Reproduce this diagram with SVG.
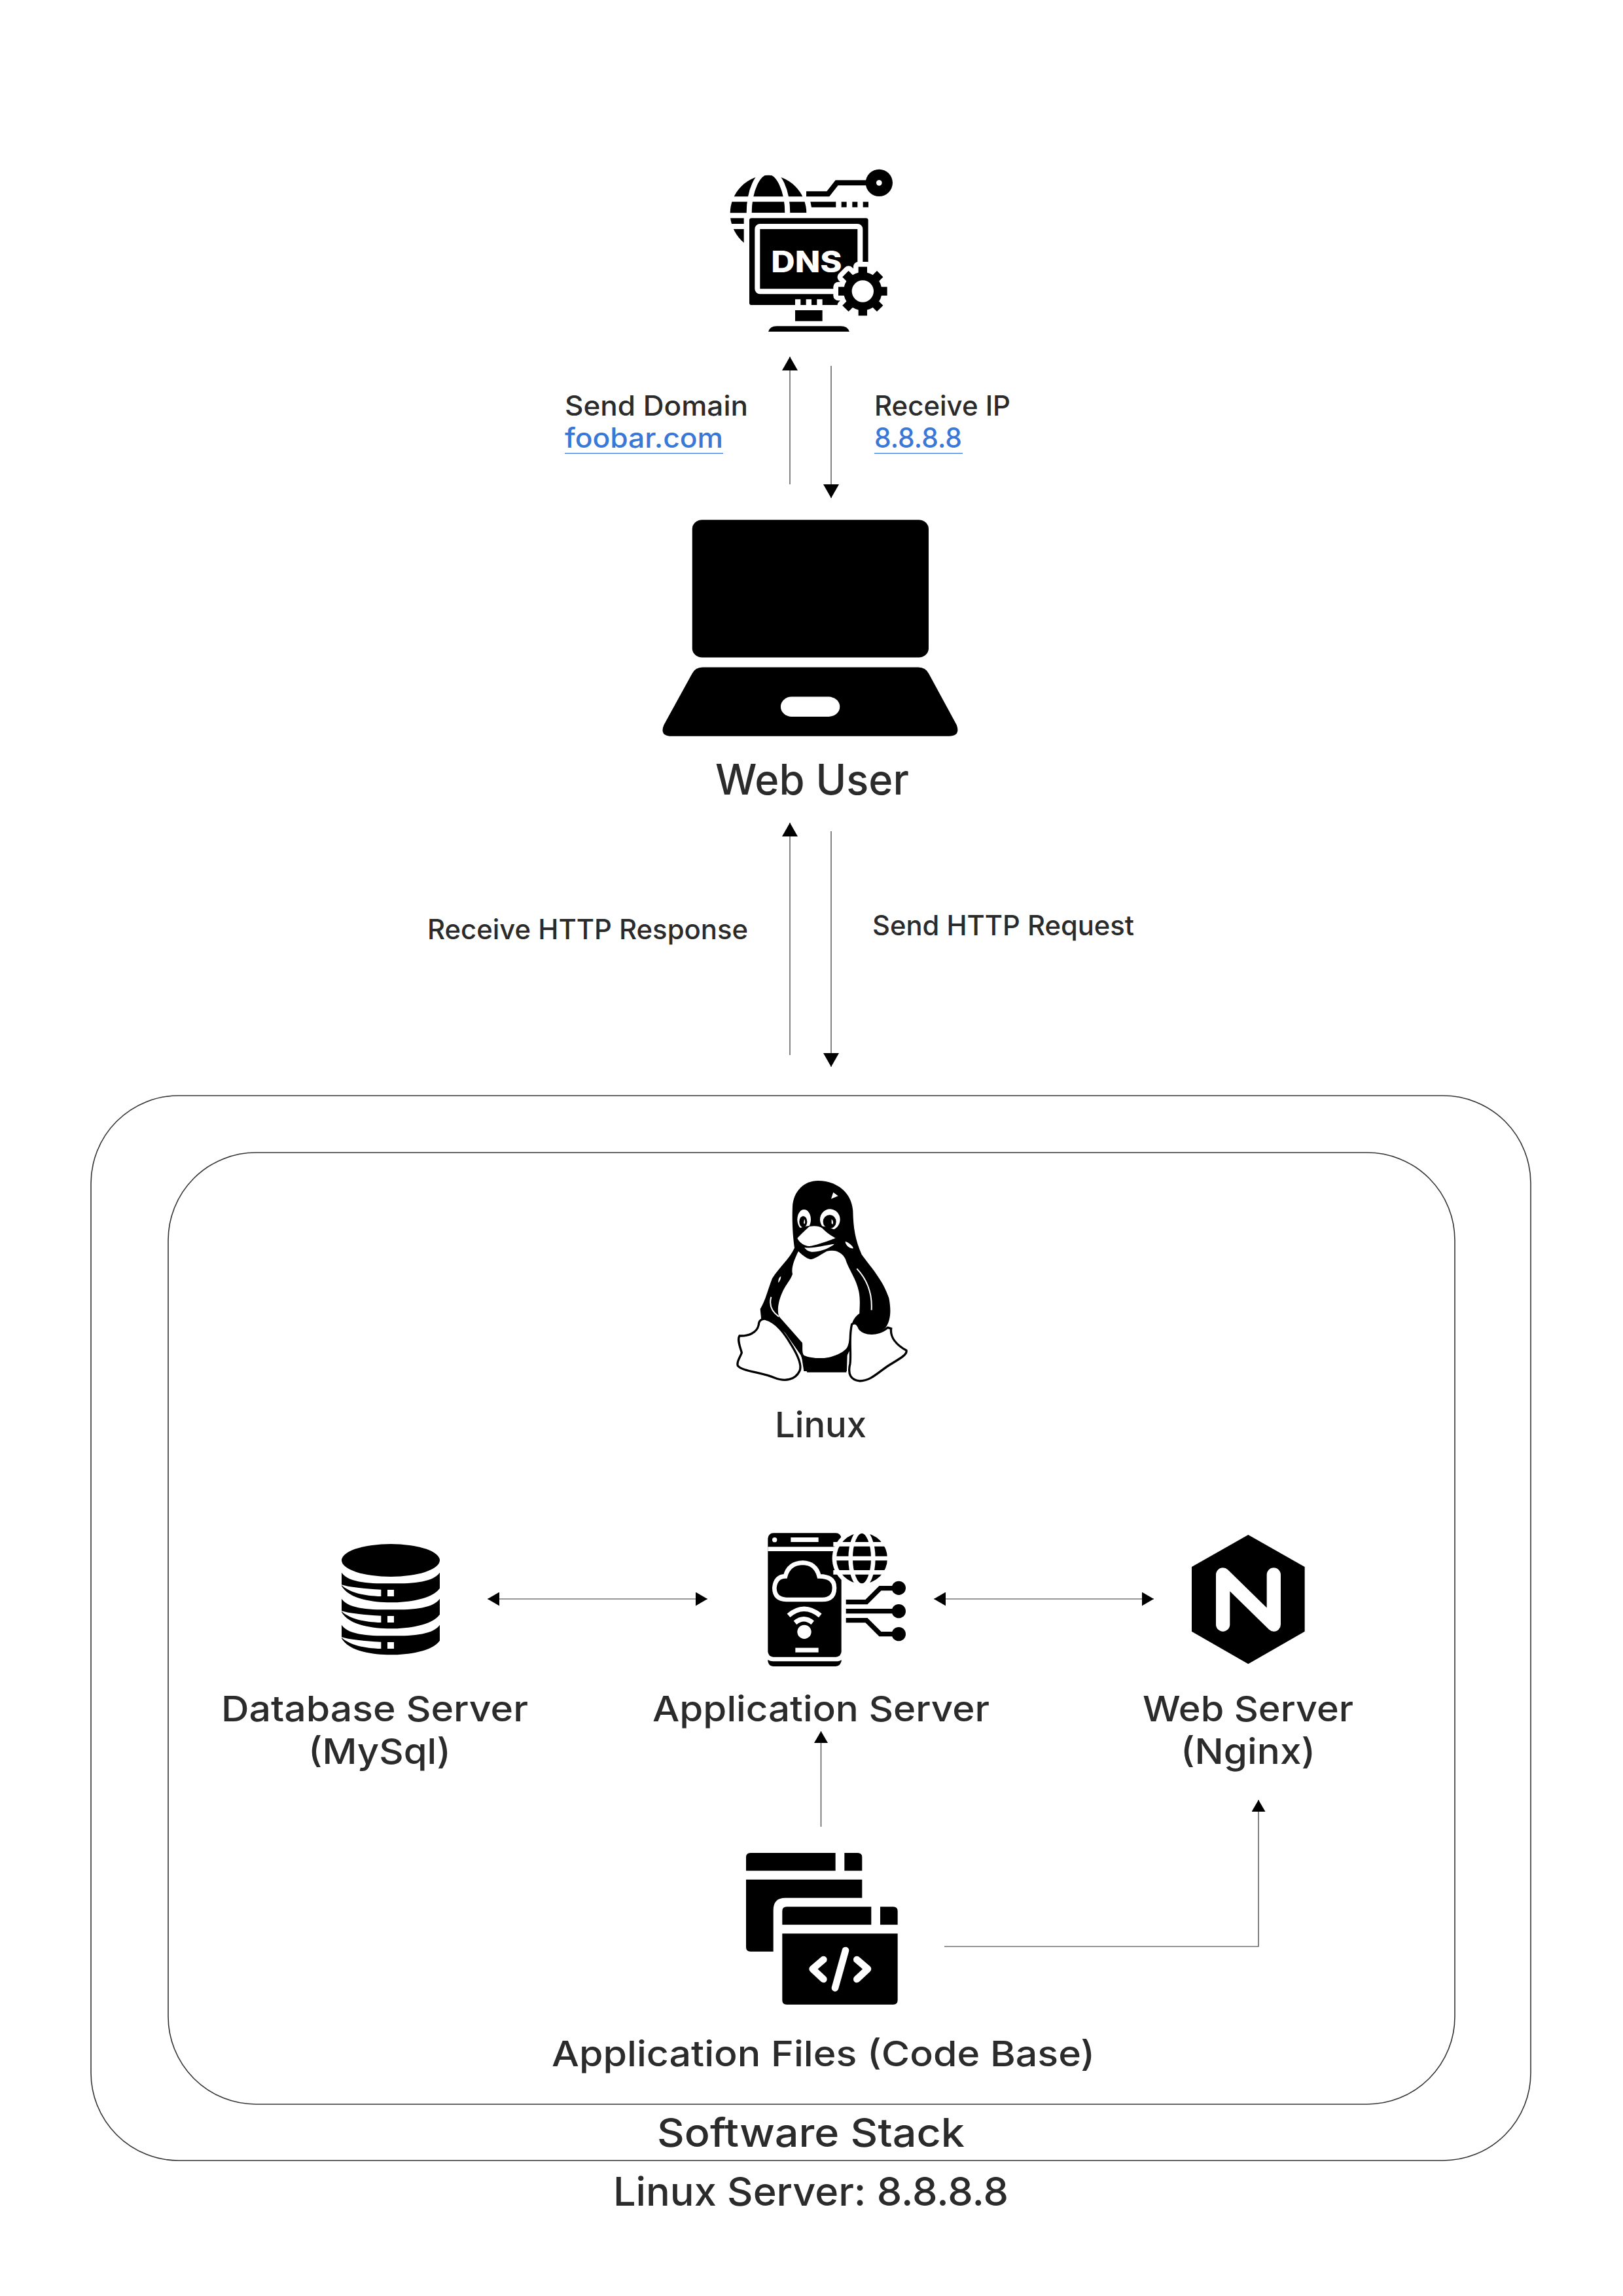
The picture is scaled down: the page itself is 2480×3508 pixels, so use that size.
<svg xmlns="http://www.w3.org/2000/svg" width="2480" height="3508" viewBox="0 0 2480 3508">
<style>
text{font-family:Inter,"Noto Sans","Liberation Sans",sans-serif;fill:#2b2b2b;font-weight:500}
.s{font-size:42px}.m{font-size:54px}.l{font-size:60px}.xl{font-size:64px}
.link{fill:#3a78d8}
.frame{fill:none;stroke:#333;stroke-width:1.6}
.c{fill:none;stroke:#333;stroke-width:1.2}
.k{fill:#000}.w{fill:#fff}
.ws{fill:none;stroke:#fff}
.ks{fill:none;stroke:#000}
</style>
<defs>
<marker id="a" markerUnits="userSpaceOnUse" markerWidth="22" markerHeight="24" refX="21" refY="12" orient="auto-start-reverse"><path d="M0 0L21 12L0 24Z" fill="#000"/></marker>
<marker id="b" markerUnits="userSpaceOnUse" markerWidth="19" markerHeight="21" refX="18" refY="10.5" orient="auto-start-reverse"><path d="M0 0L18 10.5L0 21Z" fill="#000"/></marker>
<g id="db-layer"><path class="k" d="M96 218C130 268 240 268 321 268C400 268 510 268 546 218V290C510 340 400 355 321 355C240 355 130 340 96 280Z"/><path class="w" d="M92 272C130 310 200 325 277 327V296C200 292 130 285 92 272Z"/><rect class="w" x="306" y="297" width="30" height="30"/></g>
</defs>
<rect width="2480" height="3508" fill="#fff"/>

<g id="server-frame"><rect class="frame" x="139" y="1674" width="2200" height="1627" rx="134"/></g>
<g id="stack-frame"><rect class="frame" x="257" y="1761" width="1966" height="1454" rx="134"/></g>

<g id="connectors">
<path class="c" d="M1207 740V545" marker-end="url(#a)"/>
<path class="c" d="M1270 559V761" marker-end="url(#a)"/>
<path class="c" d="M1207 1612V1257" marker-end="url(#a)"/>
<path class="c" d="M1270 1270V1630" marker-end="url(#a)"/>
<path class="c" d="M745 2443H1081" marker-start="url(#b)" marker-end="url(#b)"/>
<path class="c" d="M1427 2443H1763" marker-start="url(#b)" marker-end="url(#b)"/>
<path class="c" d="M1254.5 2791V2645" marker-end="url(#b)"/>
<path class="c" d="M1443 2974H1923V2750" marker-end="url(#b)"/>
</g>

<g id="dns">
<g transform="translate(1080 240) scale(.3333)">
<circle class="k" cx="282" cy="258" r="175"/>
<path class="ws" stroke-width="24" d="M90 193H480M90 268H480M90 318H180"/>
<ellipse class="ws" stroke-width="24" cx="282" cy="258" rx="88" ry="190"/>
<rect class="w" x="170" y="256" width="600" height="450" rx="20"/>
<rect class="w" x="456" y="130" width="20" height="60"/>
<path class="ks" stroke-width="24" d="M456 169H556L596 118H760"/>
<path class="k" d="M475 205H592V230H480Z"/>
<rect class="k" x="617" y="205" width="24" height="25"/><rect class="k" x="667" y="205" width="24" height="25"/><rect class="k" x="716" y="205" width="25" height="25"/>
<circle class="k" cx="790" cy="118" r="62"/><circle class="w" cx="790" cy="118" r="13"/>
<rect class="k" x="195" y="280" width="545" height="398" rx="10"/>
<rect class="k" x="232" y="318" width="471" height="298" rx="12" stroke="#fff" stroke-width="24"/>
<path class="w" d="M405 652h25v26h-25zM455 652h25v26h-25zM505 652h25v26h-25z"/>
<text x="295" y="528" font-size="134" style="fill:#fff;font-weight:800" textLength="325" lengthAdjust="spacingAndGlyphs">DNS</text>
<rect class="k" x="405" y="702" width="125" height="50"/>
<path class="k" d="M282 800Q290 775 320 775H615Q645 775 654 800Z"/>
<g fill="#fff" stroke="#fff" stroke-width="46" stroke-linejoin="round">
<circle cx="715" cy="615" r="88"/>
<rect x="695" y="503" width="40" height="40"/><rect x="695" y="503" width="40" height="40" transform="rotate(45 715 615)"/><rect x="695" y="503" width="40" height="40" transform="rotate(90 715 615)"/><rect x="695" y="503" width="40" height="40" transform="rotate(135 715 615)"/><rect x="695" y="503" width="40" height="40" transform="rotate(180 715 615)"/><rect x="695" y="503" width="40" height="40" transform="rotate(225 715 615)"/><rect x="695" y="503" width="40" height="40" transform="rotate(270 715 615)"/><rect x="695" y="503" width="40" height="40" transform="rotate(315 715 615)"/>
</g>
<g class="k">
<circle cx="715" cy="615" r="88"/>
<rect x="695" y="503" width="40" height="40"/><rect x="695" y="503" width="40" height="40" transform="rotate(45 715 615)"/><rect x="695" y="503" width="40" height="40" transform="rotate(90 715 615)"/><rect x="695" y="503" width="40" height="40" transform="rotate(135 715 615)"/><rect x="695" y="503" width="40" height="40" transform="rotate(180 715 615)"/><rect x="695" y="503" width="40" height="40" transform="rotate(225 715 615)"/><rect x="695" y="503" width="40" height="40" transform="rotate(270 715 615)"/><rect x="695" y="503" width="40" height="40" transform="rotate(315 715 615)"/>
</g>
<circle class="w" cx="715" cy="615" r="50"/>
</g>
</g>

<g id="labels-dns">
<text class="s" x="863" y="635" textLength="280" lengthAdjust="spacingAndGlyphs">Send Domain</text>
<text class="s link" x="863" y="684" textLength="242" lengthAdjust="spacingAndGlyphs">foobar.com</text>
<rect x="863" y="692" width="242" height="1.2" fill="#3a78d8"/>
<text class="s" x="1336" y="635" textLength="208" lengthAdjust="spacingAndGlyphs">Receive IP</text>
<text class="s link" x="1336" y="684" textLength="134" lengthAdjust="spacingAndGlyphs">8.8.8.8</text>
<rect x="1336" y="692" width="135" height="1.2" fill="#3a78d8"/>
</g>

<g id="web-user">
<g transform="translate(820 520) scale(.5102 .4592)">
<rect class="k" x="466" y="597" width="708" height="458" rx="30"/>
<path class="k" d="M497 1088H1143Q1165 1088 1175 1110L1258 1280Q1270 1317 1235 1317H405Q367 1317 381 1280L465 1110Q475 1088 497 1088Z"/>
<rect class="w" x="731" y="1186" width="177" height="66" rx="33"/>
</g>
<text class="xl" x="1093" y="1214" textLength="296" lengthAdjust="spacingAndGlyphs">Web User</text>
</g>

<g id="http-labels">
<text class="s" x="653" y="1435" textLength="490" lengthAdjust="spacingAndGlyphs">Receive HTTP Response</text>
<text class="s" x="1333" y="1429" textLength="400" lengthAdjust="spacingAndGlyphs">Send HTTP Request</text>
</g>

<g id="linux">
<g transform="translate(1100 1780) scale(.3333)">
<path class="k" d="M450 72C540 72 605 130 610 210C612 290 620 340 650 410C690 465 750 530 775 610C785 660 785 710 760 745C730 775 680 785 640 760L580 880L580 950H400L370 870L300 770L240 715L190 710L185 660C210 620 220 570 240 520C270 470 320 430 342 380C335 330 330 270 333 190C338 120 385 72 450 72Z"/>
<path class="w" d="M360 395C385 420 405 432 420 432C440 428 470 405 490 395C530 385 560 400 575 430C590 480 625 520 637 580C645 620 640 660 640 680C610 700 600 730 595 790C590 830 580 850 565 865C540 885 430 895 385 872C375 860 380 835 378 815L272 695C260 670 268 620 290 575C305 545 325 525 333 500C325 470 345 425 360 395Z"/>
<path class="ws" stroke-width="6" d="M628 475C670 520 700 580 695 665M235 605C225 640 235 670 270 695"/>
<path class="w" d="M178 732C170 770 130 785 90 783C78 800 95 840 100 860C95 880 75 900 82 920C100 945 190 950 250 975C300 995 345 985 365 945C380 915 350 860 325 820C295 770 260 720 205 705C190 705 178 715 178 732Z" stroke="#000" stroke-width="10"/>
<path class="w" d="M785 750C780 790 810 825 855 850C860 870 820 890 780 915C730 945 695 990 640 990C600 985 585 960 597 910C603 860 590 790 605 730C620 720 630 725 640 750C660 775 720 785 770 745Z" stroke="#000" stroke-width="10"/>
<path class="k" d="M375 880C410 895 540 895 585 835L582 945L385 945Z"/>
<ellipse class="w" cx="386" cy="250" rx="31" ry="46"/>
<ellipse class="w" cx="505" cy="250" rx="46" ry="48"/>
<ellipse class="k" cx="382" cy="260" rx="18" ry="26"/>
<ellipse class="k" cx="503" cy="260" rx="30" ry="31"/>
<path class="w" d="M387 248q6 8 2 22l-5-3zM512 248q10 6 6 24l-6-4z"/>
<path class="k" d="M345 300C390 270 470 270 535 300L540 345L390 400L350 360Z"/>
<path class="w" d="M355 335C375 315 395 295 410 282C430 278 455 278 470 290C490 310 510 325 530 335C490 350 440 368 410 372C385 370 365 355 355 335Z"/>
<path class="w" d="M388 378C430 385 490 365 525 362C500 385 450 400 420 398C405 395 395 390 388 378Z"/>
<path class="w" d="M510 155L520 125L542 142ZM575 350C590 355 610 370 612 382C600 385 575 370 575 350ZM268 530Q270 515 280 510Q280 525 268 540Z"/>
</g>
<text class="m" x="1184" y="2196" textLength="140" lengthAdjust="spacingAndGlyphs">Linux</text>
</g>

<g id="database-server">
<g transform="translate(490 2330) scale(.3333)">
<ellipse class="k" cx="321" cy="162" rx="225" ry="75"/>
<use href="#db-layer"/><use href="#db-layer" y="120"/><use href="#db-layer" y="240"/>
</g>
<text class="m" x="338" y="2630" textLength="469" lengthAdjust="spacingAndGlyphs">Database Server</text>
<text class="m" x="471" y="2695" textLength="218" lengthAdjust="spacingAndGlyphs">(MySql)</text>
</g>

<g id="application-server">
<g transform="translate(1140 2320) scale(.3333)">
<rect class="k" x="100" y="67" width="337" height="568" rx="25"/>
<rect class="w" x="100" y="130" width="337" height="20"/>
<circle class="w" cx="131" cy="98" r="11"/>
<rect class="w" x="205" y="87" width="127" height="21"/>
<path class="k" d="M100 648Q110 655 125 655H412Q430 655 437 648V655Q430 678 410 678H125Q105 678 100 655Z"/>
<path class="ws" stroke-width="20" d="M185 372Q130 370 130 318Q135 265 180 265Q195 205 260 203Q320 205 335 265Q405 265 405 318Q405 372 350 372Z"/>
<path class="ws" stroke-width="22" d="M195 445Q265 385 340 445M225 478Q265 445 305 478"/>
<circle class="w" cx="267" cy="520" r="32"/>
<rect class="w" x="226" y="593" width="106" height="21"/>
<circle class="w" cx="531" cy="183" r="136"/>
<circle class="k" cx="531" cy="183" r="117"/>
<path class="ws" stroke-width="20" d="M400 118H660M400 183H660M400 247H660"/>
<ellipse class="ws" stroke-width="20" cx="531" cy="183" rx="52" ry="125"/>
<path class="ks" stroke-width="22" d="M458 383H552L615 320H700M458 425H700M458 467H552L615 530H700"/>
<circle class="k" cx="700" cy="319" r="32"/><circle class="k" cx="700" cy="425" r="32"/><circle class="k" cx="700" cy="530" r="32"/>
</g>
<text class="m" x="997" y="2630" textLength="515" lengthAdjust="spacingAndGlyphs">Application Server</text>
</g>

<g id="web-server">
<g transform="translate(1790 2320) scale(.3333)">
<path class="k" d="M352 75L611 222V518L352 667L93 518V222Z"/>
<path class="ws" stroke-width="64" stroke-linejoin="round" stroke-linecap="round" d="M236 486V258L469 486V258"/>
</g>
<text class="m" x="1746" y="2630" textLength="322" lengthAdjust="spacingAndGlyphs">Web Server</text>
<text class="m" x="1804" y="2695" textLength="206" lengthAdjust="spacingAndGlyphs">(Nginx)</text>
</g>

<g id="application-files">
<g transform="translate(1120 2800) scale(.3333)">
<path class="k" d="M60 175V113Q60 93 80 93H470V175ZM511 93H572Q592 93 592 113V175H511ZM60 215H592V299H240Q185 299 185 355V545H80Q60 545 60 525Z"/>
<path class="k" d="M226 422V360Q226 340 246 340H634V422ZM675 340H735Q755 340 755 360V422H675ZM226 463H755V768Q755 788 735 788H246Q226 788 226 768Z"/>
<path class="ws" stroke-width="32" stroke-linecap="round" stroke-linejoin="round" d="M415 582L365 625L415 672M516 540L468 712M568 582L618 625L568 672"/>
</g>
<text class="m" x="843" y="3157" textLength="830" lengthAdjust="spacingAndGlyphs">Application Files (Code Base)</text>
</g>

<g id="frame-labels">
<text class="l" x="1004" y="3280" textLength="470" lengthAdjust="spacingAndGlyphs">Software Stack</text>
<text class="l" x="937" y="3370" textLength="604" lengthAdjust="spacingAndGlyphs">Linux Server: 8.8.8.8</text>
</g>
</svg>
